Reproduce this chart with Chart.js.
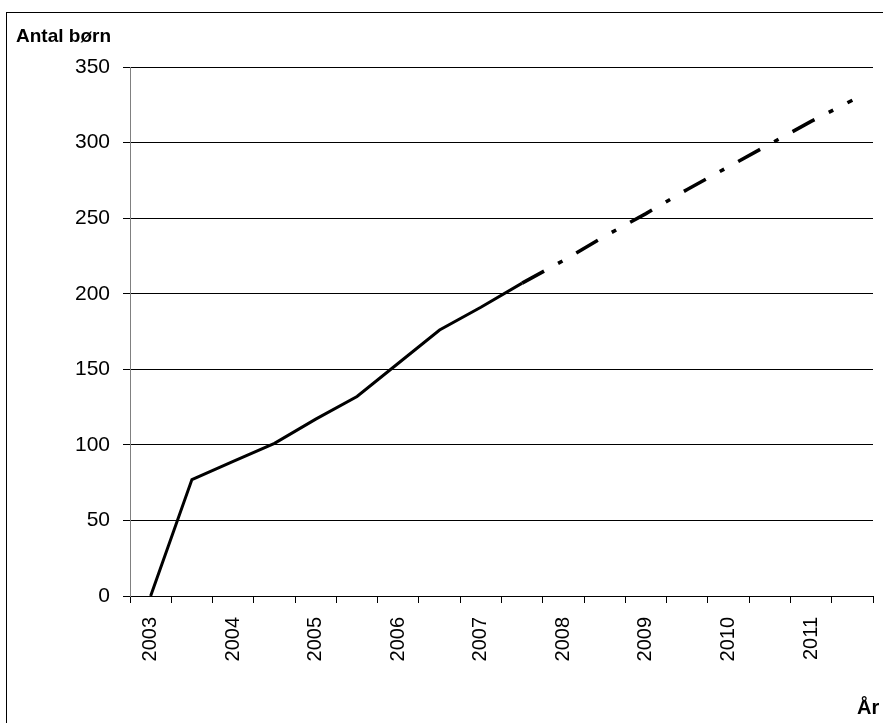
<!DOCTYPE html>
<html>
<head>
<meta charset="utf-8">
<script src="https://cdn.jsdelivr.net/npm/chart.js@4/dist/chart.umd.min.js"></script>
<style>
  html, body { margin: 0; padding: 0; background: #fff; overflow: hidden; }
  #frame {
    position: absolute; left: 6px; top: 12px; width: 1000px; height: 1000px;
    border-left: 1.5px solid #000; border-top: 1.5px solid #000;
  }
  #wrap { position: absolute; left: 0; top: 0; width: 883px; height: 723px; }
</style>
</head>
<body>
<div id="frame"></div>
<div id="wrap"><canvas id="myChart" width="883" height="723"></canvas></div>
<script>
// half-year categories, label on every second one
const categories = ['2003', '', '2004', '', '2005', '', '2006', '', '2007', '',
  '2008', '', '2009', '', '2010', '', '2011', ''];
const actualValues = [0, 77, 89, 101, 117, 132, 154, 176, 191, 207,
  null, null, null, null, null, null, null, null];
const forecastValues = [null, null, null, null, null, null, null, null, null, 207,
  222, 238, 253, 269, 284, 299, 314, 328];
const yTicks = [0, 50, 100, 150, 200, 250, 300, 350];

// axis captions drawn straight onto the canvas
const captions = {
  id: 'captions',
  afterDraw(chart) {
    const c = chart.ctx;
    c.save();
    c.fillStyle = '#000';
    c.font = 'bold 19px "Liberation Sans", Arial, sans-serif';
    c.textBaseline = 'alphabetic';
    c.fillText('Antal børn', 16, 42);
    c.font = 'bold 20px "Liberation Sans", Arial, sans-serif';
    c.fillText('År', 857, 714);
    c.restore();
  },
};

const ctx = document.getElementById('myChart').getContext('2d');
const myChart = new Chart(ctx, {
  type: 'line',
  data: {
    labels: categories,
    datasets: [{
      label: 'Faktisk',
      data: actualValues,
      borderColor: '#000',
      borderWidth: 3,
      pointRadius: 0,
      tension: 0,
    }, {
      label: 'Prognose',
      data: forecastValues,
      borderColor: '#000',
      borderWidth: 3.5,
      borderDash: [25, 16, 5, 16],
      borderCapStyle: 'butt',
      pointRadius: 0,
      tension: 0,
    }],
  },
  options: {
    responsive: false,
    animation: false,
    layout: { padding: { top: 67, right: 10, left: 0, bottom: 0 } },
    plugins: { legend: { display: false }, tooltip: { enabled: false } },
    scales: {
      x: {
        offset: true,
        grid: { offset: true, drawOnChartArea: false, color: '#000', tickLength: 7, lineWidth: 1 },
        border: { color: '#000', width: 1 },
        ticks: {
          autoSkip: false, maxRotation: 90, minRotation: 90, padding: 14, color: '#000',
          font: { family: '"Liberation Sans", Arial, sans-serif', size: 20 },
        },
        afterFit(scale) {
          scale.height = 127;
          scale.paddingRight = 0;
          scale.paddingLeft = 0;
        },
      },
      y: {
        min: 0,
        max: 350,
        afterBuildTicks(scale) { scale.ticks = yTicks.map((v) => ({ value: v })); },
        grid: { color: '#000', tickLength: 7, lineWidth: 1 },
        border: { color: '#808080', width: 1 },
        ticks: {
          padding: 13, color: '#000',
          font: { family: '"Liberation Sans", Arial, sans-serif', size: 21 },
        },
        afterFit(scale) { scale.width = 130; },
      },
    },
  },
  plugins: [captions],
});
</script>
</body>
</html>
